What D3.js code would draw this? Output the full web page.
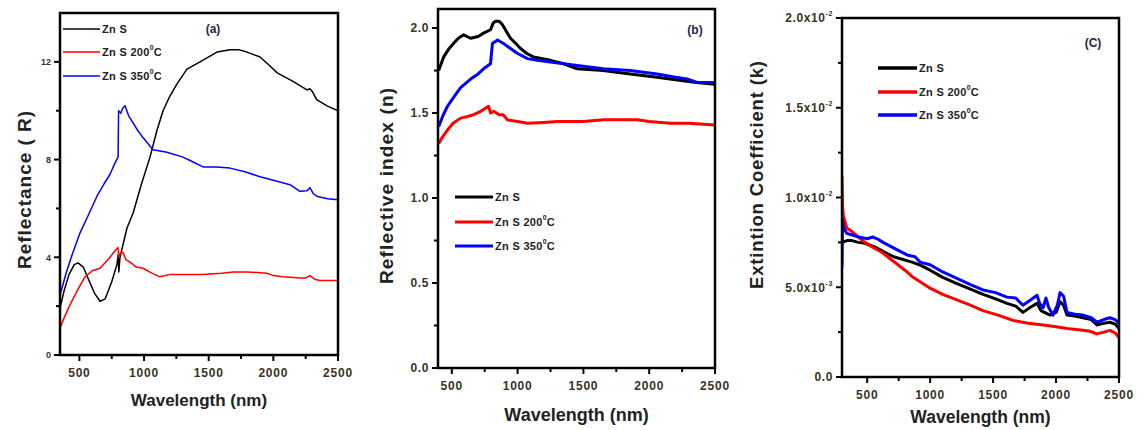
<!DOCTYPE html>
<html lang="en">
<head>
<meta charset="utf-8">
<title>ZnS optical constants</title>
<style>
  body { margin: 0; background: #fff; }
  svg text { font-family: "Liberation Sans", Arial, sans-serif; font-weight: bold; }
</style>
</head>
<body>
<div id="chart"></div>
<script src="https://d3js.org/d3.v7.min.js"></script>
<script>
// ---- data: [wavelength nm, value] ----
var seriesNames = ["Zn S", "Zn S 200", "Zn S 350"];
var seriesColors = ["#000000", "#ff0000", "#0000ff"];

// (a) reflectance R
var reflZnS = [[350,1.9],[380,2.6],[420,3.3],[460,3.7],[490,3.77],[530,3.6],[570,3.1],[620,2.5],[660,2.2],[700,2.3],[750,3.0],[790,3.7],[800,4.1],[805,3.4],[814,4.0],[868,5.2],[915,5.8],[980,7.0],[1046,8.1],[1100,9.2],[1147,10.0],[1200,10.6],[1255,11.1],[1332,11.7],[1433,12.0],[1500,12.2],[1564,12.4],[1665,12.5],[1730,12.5],[1796,12.4],[1897,12.2],[1960,11.9],[2030,11.55],[2152,11.2],[2260,10.85],[2283,10.9],[2300,10.8],[2335,10.45],[2415,10.2],[2500,10.0]];
var refl200 = [[350,1.1],[380,1.5],[427,2.05],[480,2.6],[543,3.2],[600,3.45],[660,3.55],[737,4.0],[780,4.3],[799,4.4],[805,4.0],[820,4.2],[837,4.2],[860,3.9],[892,3.8],[940,3.6],[992,3.55],[1060,3.35],[1123,3.2],[1200,3.3],[1278,3.3],[1450,3.3],[1600,3.35],[1689,3.4],[1800,3.4],[1950,3.35],[2000,3.25],[2075,3.2],[2206,3.15],[2250,3.15],[2283,3.25],[2320,3.1],[2361,3.05],[2500,3.05]];
var refl350 = [[350,2.45],[400,3.4],[450,4.2],[505,5.0],[567,5.7],[636,6.5],[690,7.0],[737,7.4],[770,7.8],[799,8.1],[803,10.0],[820,9.9],[835,10.1],[853,10.2],[880,9.8],[915,9.5],[950,9.2],[992,8.9],[1069,8.4],[1177,8.3],[1301,8.1],[1380,7.9],[1456,7.7],[1560,7.7],[1665,7.65],[1780,7.5],[1897,7.3],[2000,7.15],[2129,6.97],[2206,6.7],[2260,6.72],[2283,6.85],[2310,6.6],[2335,6.5],[2420,6.4],[2500,6.35]];

// (b) refractive index n
var nZnS = [[400,1.75],[438,1.83],[480,1.88],[514,1.91],[550,1.94],[590,1.96],[643,1.94],[700,1.95],[741,1.97],[794,1.99],[815,2.03],[832,2.04],[860,2.04],[885,2.02],[915,1.98],[946,1.94],[985,1.91],[1022,1.88],[1070,1.85],[1120,1.83],[1249,1.81],[1350,1.79],[1453,1.76],[1650,1.75],[1856,1.73],[2060,1.71],[2257,1.69],[2360,1.68],[2500,1.67]];
var n200 = [[400,1.32],[430,1.36],[467,1.40],[510,1.44],[567,1.47],[620,1.48],[666,1.49],[720,1.51],[779,1.54],[795,1.50],[820,1.51],[860,1.49],[890,1.49],[923,1.46],[1000,1.45],[1075,1.44],[1200,1.445],[1302,1.45],[1500,1.45],[1651,1.46],[1800,1.46],[1909,1.46],[2000,1.45],[2159,1.44],[2300,1.44],[2500,1.43]];
var n350 = [[400,1.42],[430,1.48],[467,1.54],[520,1.60],[567,1.65],[643,1.70],[700,1.73],[741,1.76],[794,1.79],[800,1.84],[809,1.91],[830,1.92],[847,1.93],[890,1.91],[946,1.88],[1000,1.85],[1075,1.82],[1150,1.81],[1249,1.80],[1453,1.78],[1651,1.76],[1856,1.75],[2060,1.73],[2200,1.71],[2287,1.70],[2364,1.68],[2500,1.68]];

// (c) extinction coefficient k
var kZnS = [[300,7.5e-3],[340,7.6e-3],[379,7.6e-3],[430,7.5e-3],[482,7.45e-3],[574,7.2e-3],[640,6.95e-3],[710,6.7e-3],[856,6.4e-3],[930,6.2e-3],[1000,5.95e-3],[1100,5.55e-3],[1213,5.2e-3],[1320,4.9e-3],[1420,4.6e-3],[1520,4.35e-3],[1610,4.1e-3],[1680,3.95e-3],[1737,3.6e-3],[1800,3.9e-3],[1849,4.1e-3],[1880,3.7e-3],[1952,3.45e-3],[2000,3.6e-3],[2032,4.2e-3],[2060,4.0e-3],[2087,3.45e-3],[2150,3.4e-3],[2214,3.3e-3],[2280,3.2e-3],[2325,2.9e-3],[2380,3.0e-3],[2428,3.05e-3],[2470,2.95e-3],[2500,2.7e-3]];
var k200 = [[300,11.2e-3],[304,9.6e-3],[310,9.0e-3],[338,8.3e-3],[379,8.1e-3],[430,7.8e-3],[482,7.5e-3],[550,7.2e-3],[617,6.95e-3],[680,6.6e-3],[745,6.25e-3],[800,5.95e-3],[856,5.6e-3],[1000,4.95e-3],[1100,4.6e-3],[1213,4.3e-3],[1320,4.0e-3],[1420,3.7e-3],[1540,3.45e-3],[1658,3.15e-3],[1780,3.0e-3],[1897,2.9e-3],[2000,2.8e-3],[2087,2.7e-3],[2214,2.6e-3],[2270,2.55e-3],[2325,2.4e-3],[2380,2.5e-3],[2428,2.6e-3],[2470,2.45e-3],[2500,2.2e-3]];
var k350 = [[300,6.1e-3],[304,8.7e-3],[315,8.3e-3],[338,8.0e-3],[433,7.8e-3],[500,7.7e-3],[544,7.8e-3],[580,7.7e-3],[626,7.5e-3],[720,7.15e-3],[817,6.8e-3],[880,6.7e-3],[920,6.4e-3],[1000,6.25e-3],[1100,5.85e-3],[1213,5.5e-3],[1320,5.15e-3],[1420,4.85e-3],[1520,4.7e-3],[1610,4.45e-3],[1680,4.4e-3],[1737,4.0e-3],[1800,4.3e-3],[1849,4.55e-3],[1870,4.1e-3],[1897,3.85e-3],[1920,4.4e-3],[1940,3.9e-3],[1975,3.45e-3],[2010,4.0e-3],[2032,4.7e-3],[2060,4.5e-3],[2087,3.6e-3],[2150,3.5e-3],[2214,3.45e-3],[2280,3.3e-3],[2325,3.05e-3],[2380,3.2e-3],[2428,3.3e-3],[2470,3.2e-3],[2500,3.0e-3]];

var xMajor = [500, 1000, 1500, 2000, 2500];
var xMinor = [750, 1250, 1750, 2250];

var width = 1139, height = 430;
var svg = d3.select("#chart").append("svg")
  .attr("width", width).attr("height", height);

var panels = [
  { box: [60, 13, 338, 355], xDom: [350, 2500], yDom: [0, 14],
    yMajor: [0, 4, 8, 12], yMinor: [2, 6, 10],
    yFmt: function(d) { return [String(d)]; }, yFont: 9,
    series: [reflZnS, refl200, refl350], lw: 1.5,
    yTitle: "Reflectance ( R)", yTitleX: 31, yTitleY: 190, yTitleLen: 158, yTitleFs: 19,
    xTitleY: 406, xTitleFs: 17, tag: "(a)", tagX: 213, tagY: 33,
    legX: 63, legLen: 37, legY: [29, 52, 76], legStroke: 1.5, legSpace: "" },
  { box: [438, 9, 715, 368], xDom: [395, 2500], yDom: [0, 2.112],
    yMajor: [0, 0.5, 1.0, 1.5, 2.0], yMinor: [0.25, 0.75, 1.25, 1.75],
    yFmt: function(d) { return [d.toFixed(1)]; }, yFont: 12,
    series: [nZnS, n200, n350], lw: 3,
    yTitle: "Reflective index (n)", yTitleX: 393, yTitleY: 186, yTitleLen: 196, yTitleFs: 19,
    xTitleY: 421, xTitleFs: 18, tag: "(b)", tagX: 695, tagY: 34,
    legX: 455, legLen: 38, legY: [197, 222, 246], legStroke: 3, legSpace: "" },
  { box: [842, 18, 1119, 377], xDom: [300, 2500], yDom: [0, 0.02],
    yMajor: [0, 0.005, 0.01, 0.015, 0.02], yMinor: [0.0025, 0.0075, 0.0125, 0.0175],
    yFmt: function(d) {
      if (d === 0) return ["0.0"];
      var e = Math.floor(Math.log10(d) + 1e-9);
      return [(d / Math.pow(10, e)).toFixed(1) + "x10", String(e)];
    }, yFont: 12,
    series: [kZnS, k200, k350], lw: 3,
    yTitle: "Extintion Coefficient (k)", yTitleX: 763, yTitleY: 175, yTitleLen: 228, yTitleFs: 18.5,
    xTitleY: 423, xTitleFs: 17.5, tag: "(C)", tagX: 1093, tagY: 47,
    legX: 878, legLen: 39, legY: [68, 92, 115], legStroke: 3.5, legSpace: " " }
];

panels.forEach(function(p) {
  var x = d3.scaleLinear().domain(p.xDom).range([p.box[0], p.box[2]]);
  var y = d3.scaleLinear().domain(p.yDom).range([p.box[3], p.box[1]]);
  var g = svg.append("g");

  // clip to frame
  var cid = "clip" + p.tag.replace(/\W/g, "");
  g.append("clipPath").attr("id", cid).append("rect")
    .attr("x", p.box[0]).attr("y", p.box[1])
    .attr("width", p.box[2] - p.box[0]).attr("height", p.box[3] - p.box[1]);

  var line = d3.line().x(function(d) { return x(d[0]); }).y(function(d) { return y(d[1]); });
  p.series.forEach(function(s, i) {
    g.append("path").datum(s)
      .attr("clip-path", "url(#" + cid + ")")
      .attr("fill", "none").attr("stroke", seriesColors[i])
      .attr("stroke-width", p.lw).attr("stroke-linejoin", "round")
      .attr("d", line);
  });

  // frame
  g.append("rect")
    .attr("x", p.box[0]).attr("y", p.box[1])
    .attr("width", p.box[2] - p.box[0]).attr("height", p.box[3] - p.box[1])
    .attr("fill", "none").attr("stroke", "#000").attr("stroke-width", 2.5);

  // x axis ticks
  g.selectAll(".xmaj").data(xMajor).enter().append("line")
    .attr("x1", x).attr("x2", x).attr("y1", p.box[3]).attr("y2", p.box[3] + 6)
    .attr("stroke", "#000").attr("stroke-width", 2);
  g.selectAll(".xmin").data(xMinor).enter().append("line")
    .attr("x1", x).attr("x2", x).attr("y1", p.box[3]).attr("y2", p.box[3] + 4)
    .attr("stroke", "#000").attr("stroke-width", 2);
  g.selectAll(".xlab").data(xMajor).enter().append("text")
    .attr("x", x).attr("y", p.box[3] + 22)
    .attr("text-anchor", "middle").attr("font-size", 12)
    .attr("letter-spacing", 0.8).attr("fill", "#3a3225")
    .text(function(d) { return d; });

  // y axis ticks
  g.selectAll(".ymaj").data(p.yMajor).enter().append("line")
    .attr("y1", y).attr("y2", y).attr("x1", p.box[0]).attr("x2", p.box[0] - 6)
    .attr("stroke", "#000").attr("stroke-width", 2);
  g.selectAll(".ymin").data(p.yMinor).enter().append("line")
    .attr("y1", y).attr("y2", y).attr("x1", p.box[0]).attr("x2", p.box[0] - 4)
    .attr("stroke", "#000").attr("stroke-width", 2);
  var yl = g.selectAll(".ylab").data(p.yMajor).enter().append("text")
    .attr("x", p.box[0] - 9).attr("y", function(d) { return y(d) + p.yFont * 0.36; })
    .attr("text-anchor", "end").attr("font-size", p.yFont)
    .attr("letter-spacing", p.yFont > 10 ? 0.6 : 0).attr("fill", "#3a3225");
  yl.each(function(d) {
    var parts = p.yFmt(d), t = d3.select(this);
    t.append("tspan").text(parts[0]);
    if (parts[1]) {
      t.append("tspan").attr("font-size", 7).attr("dy", -6).text(parts[1]);
    }
  });

  // axis titles
  g.append("text")
    .attr("x", (p.box[0] + p.box[2]) / 2).attr("y", p.xTitleY)
    .attr("text-anchor", "middle").attr("font-size", p.xTitleFs).attr("fill", "#222")
    .text("Wavelength (nm)");
  g.append("text")
    .attr("transform", "translate(" + p.yTitleX + "," + p.yTitleY + ") rotate(-90)")
    .attr("text-anchor", "middle").attr("font-size", p.yTitleFs).attr("fill", "#222")
    .attr("textLength", p.yTitleLen).attr("lengthAdjust", "spacing")
    .text(p.yTitle);

  // panel tag
  g.append("text").attr("x", p.tagX).attr("y", p.tagY)
    .attr("text-anchor", "middle").attr("font-size", 12).attr("fill", "#2a2540")
    .text(p.tag);

  // legend
  seriesNames.forEach(function(name, i) {
    var ly = p.legY[i];
    g.append("line").attr("x1", p.legX).attr("x2", p.legX + p.legLen)
      .attr("y1", ly).attr("y2", ly)
      .attr("stroke", seriesColors[i]).attr("stroke-width", p.legStroke);
    var t = g.append("text").attr("x", p.legX + p.legLen + 2).attr("y", ly + 4)
      .attr("font-size", 11).attr("letter-spacing", 0.3).attr("fill", "#222");
    if (i === 0) {
      t.text(name);
    } else {
      var parts = name.split(" ");
      t.append("tspan").text(parts[0] + " " + parts[1] + " " + p.legSpace + parts[2]);
      t.append("tspan").attr("font-size", 7).attr("dy", -6).text("0");
      t.append("tspan").attr("dy", 6).text("C");
    }
  });
});
</script>
</body>
</html>
